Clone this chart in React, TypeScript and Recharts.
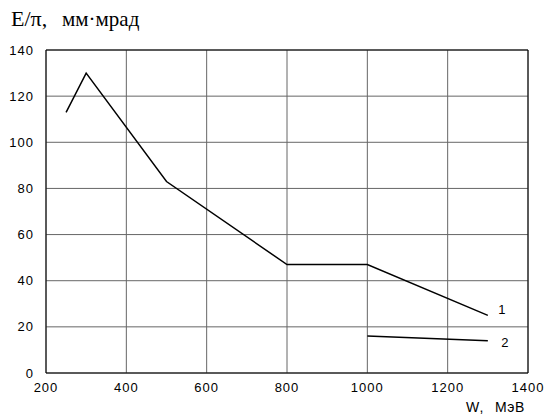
import React from 'react';
import { LineChart, Line, XAxis, YAxis, CartesianGrid, ReferenceLine } from 'recharts';

const series1X = [250, 300, 500, 800, 1000, 1300];
const series1Y = [113, 130, 83, 47, 47, 25];
const series2X = [1000, 1300];
const series2Y = [16, 14];
const xTicks = [200, 400, 600, 800, 1000, 1200, 1400];
const yTicks = [0, 20, 40, 60, 80, 100, 120, 140];
const seriesNames = ['1', '2'];

const data1 = series1X.map((x, i) => ({ x, y: series1Y[i] }));
const data2 = series2X.map((x, i) => ({ x, y: series2Y[i] }));

const makeLabel = (text: string, n: number, dx: number, dy: number) => (props: any) => {
  const { x, y, index } = props;
  if (index !== n - 1) return null;
  return (
    <text x={x + dx} y={y + dy} textAnchor="middle" dominantBaseline="central"
      fontFamily="Liberation Sans, Arial, sans-serif" fontSize={13} fill="#000">
      {text}
    </text>
  );
};

const tickStyle = { fontFamily: 'Liberation Sans, Arial, sans-serif', fontSize: 13, fill: '#000', letterSpacing: 1 };

export default function App() {
  return (
    <div style={{ position: 'absolute', left: 0, top: 0, width: 547, height: 414, background: '#fff' }}>
      <LineChart width={547} height={414} margin={{ top: 50, right: 19, bottom: 0, left: 0 }}>
        <CartesianGrid stroke="#666" strokeWidth={1} />
        <XAxis dataKey="x" type="number" domain={[200, 1400]} ticks={xTicks} tickLine={false}
          axisLine={{ stroke: '#000' }} height={41} tick={tickStyle} tickMargin={4} allowDuplicatedCategory={false} />
        <YAxis type="number" domain={[0, 140]} ticks={yTicks} tickLine={false}
          axisLine={{ stroke: '#000' }} width={46} tick={tickStyle} tickMargin={6} />
        <ReferenceLine y={140} stroke="#000" />
        <ReferenceLine x={1400} stroke="#000" />
        <Line data={data1} dataKey="y" stroke="#000" strokeWidth={1.5} dot={false}
          isAnimationActive={false} label={makeLabel(seriesNames[0], data1.length, 14, -6)} />
        <Line data={data2} dataKey="y" stroke="#000" strokeWidth={1.5} dot={false}
          isAnimationActive={false} label={makeLabel(seriesNames[1], data2.length, 17, 2)} />
      </LineChart>
      <svg width={547} height={414} style={{ position: 'absolute', left: 0, top: 0, pointerEvents: 'none' }}>
        <text x={11} y={26} fontFamily="Liberation Serif, Times New Roman, serif" fontSize={22} fill="#000">E/π,</text>
        <text x={62} y={26} fontFamily="Liberation Serif, Times New Roman, serif" fontSize={21} fill="#000">мм·мрад</text>
        <text x={466} y={412} fontFamily="Liberation Sans, Arial, sans-serif" fontSize={14} letterSpacing={1} fill="#000">W,</text>
        <text x={495} y={412} fontFamily="Liberation Sans, Arial, sans-serif" fontSize={14} letterSpacing={0.5} fill="#000">МэВ</text>
      </svg>
    </div>
  );
}
